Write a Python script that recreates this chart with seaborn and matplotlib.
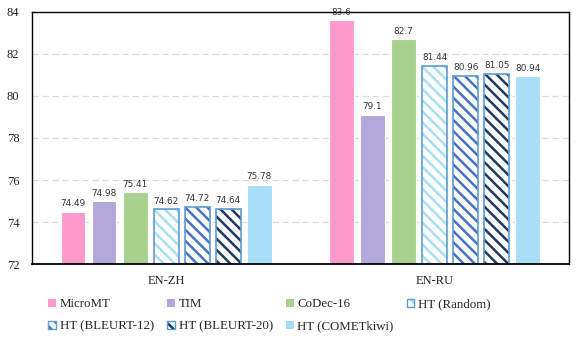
import numpy as np
import pandas as pd
import matplotlib
matplotlib.use("Agg")
import matplotlib.pyplot as plt
import seaborn as sns
from matplotlib.patches import Patch, Rectangle

# Datos del grafico
groups = ["EN-ZH", "EN-RU"]
methods = ["MicroMT", "TIM", "CoDec-16", "HT (Random)",
           "HT (BLEURT-12)", "HT (BLEURT-20)", "HT (COMETkiwi)"]
en_zh = [74.49, 74.98, 75.41, 74.62, 74.72, 74.64, 75.78]
en_ru = [83.6, 79.1, 82.7, 81.44, 80.96, 81.05, 80.94]
value_labels = {"EN-ZH": ["74.49", "74.98", "75.41", "74.62", "74.72", "74.64", "75.78"],
                "EN-RU": ["83.6", "79.1", "82.7", "81.44", "80.96", "81.05", "80.94"]}

fills = ["#FF99CC", "#B4A7DC", "#A9D18E", "#A9DEF9", "#4472C4", "#1F3864", "#A9DEF9"]
hatched = [False, False, False, True, True, True, False]
edge_blue = "#5B9BD5"

df = pd.DataFrame({
    "group": np.repeat(groups, len(methods)),
    "method": methods * len(groups),
    "score": en_zh + en_ru,
})

sns.set_style("white")
plt.rcParams["hatch.linewidth"] = 1.8

fig = plt.figure(figsize=(5.81, 3.42), dpi=100)
ax = fig.add_axes([0.055, 0.228, 0.924, 0.737])

sns.barplot(data=df, x="group", y="score", hue="method", order=groups,
            hue_order=methods, palette=fills, width=0.81, gap=0.2,
            legend=False, ax=ax, saturation=1)

for i, cont in enumerate(ax.containers):
    for j, p in enumerate(cont.patches):
        if hatched[i]:
            p.set_facecolor("white")
            p.set_edgecolor(fills[i])
            p.set_hatch("\\\\\\")
            p.set_linewidth(0)
            ax.add_patch(Rectangle(p.get_xy(), p.get_width(), p.get_height(),
                                   fill=False, ec=edge_blue, lw=1.2, zorder=p.get_zorder() + 0.1))
        else:
            p.set_edgecolor("white")
            p.set_linewidth(0.8)
    labs = [value_labels[g][i] for g in groups]
    ax.bar_label(cont, labels=labs, padding=2.5, fontsize=6.4,
                 family="DejaVu Sans", color="#333333")

ax.set_ylim(72, 84)
ax.set_yticks([72, 74, 76, 78, 80, 82, 84])
ax.set_xlim(-0.5, 1.5)
ax.set_xlabel("")
ax.set_ylabel("")
for y in [74, 76, 78, 80, 82]:
    ax.axhline(y, color="#D9D9D9", lw=0.9, ls=(0, (5, 3)), zorder=0)

for s in ax.spines.values():
    s.set_visible(True)
    s.set_color("black")
    s.set_linewidth(1.0)
ax.spines["bottom"].set_linewidth(1.3)

ax.tick_params(axis="both", length=0, labelsize=9)
ax.tick_params(axis="x", pad=8)
ax.tick_params(axis="y", pad=9)
for t in ax.get_xticklabels() + ax.get_yticklabels():
    t.set_family("Liberation Serif")
    t.set_color("#222222")

handles = []
for i, m in enumerate(methods):
    if hatched[i]:
        h = (Patch(facecolor="white", edgecolor=fills[i], hatch="\\\\\\", lw=0),
             Patch(facecolor="none", edgecolor=edge_blue, lw=1.0))
    else:
        h = Patch(facecolor=fills[i], edgecolor="none")
    handles.append(h)

# la leyenda de matplotlib llena por columnas; reordenar para llenar por filas
order = [0, 4, 1, 5, 2, 6, 3]
fig.legend([handles[k] for k in order], [methods[k] for k in order],
           loc="upper left", bbox_to_anchor=(0.063, 0.162),
           ncol=4, frameon=False, handlelength=0.6, handleheight=0.6,
           handletextpad=0.3, columnspacing=1.0, labelspacing=0.8,
           prop={"family": "Liberation Serif", "size": 9.3})

fig.savefig("out.png", dpi=100)
